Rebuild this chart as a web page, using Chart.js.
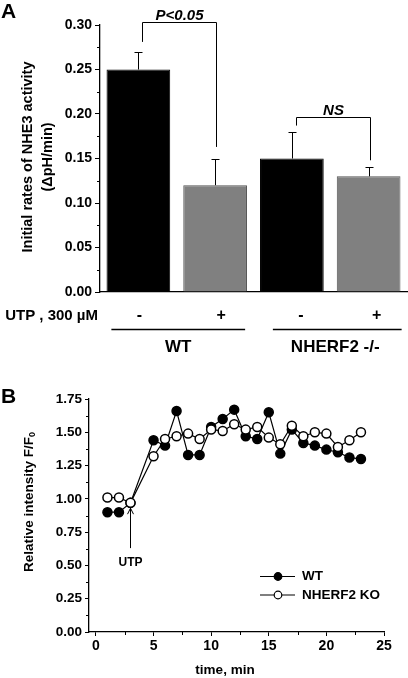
<!DOCTYPE html>
<html>
<head>
<meta charset="utf-8">
<script src="https://cdn.jsdelivr.net/npm/chart.js@4.4.0/dist/chart.umd.min.js"></script>
<style>
  body { margin: 0; background: #fff; }
  canvas { position: absolute; left: 0; }
  #chartA { top: 0; }
  #chartB { top: 370px; }
</style>
</head>
<body>
<canvas id="chartA" width="408" height="360"></canvas>
<canvas id="chartB" width="408" height="308"></canvas>
<script>
// ---- panel A: NHE3 activity bars
const utpLabels = ['-', '+', '-', '+']
const groups = ['WT', 'NHERF2 -/-']
const rates = [0.25, 0.12, 0.15, 0.13]
const rateErr = [0.02, 0.03, 0.03, 0.01]
const barColors = ['#000000', '#808080', '#000000', '#808080']
const yTicksA = [0, 0.05, 0.10, 0.15, 0.20, 0.25, 0.30]
const yMinorA = [0.025, 0.075, 0.125, 0.175, 0.225, 0.275]
const sigLabels = ['P<0.05', 'NS']
const sigPairs = [[0, 1], [2, 3]]
const sigTop = [0.303, 0.197]
const sigEnds = [[0.281, 0.163], [0.187, 0.148]]

// ---- panel B: time course
const times = [1, 2, 3, 5, 6, 7, 8, 9, 10, 11, 12, 13, 14, 15, 16, 17, 18, 19, 20, 21, 22, 23]
const wt = [0.90, 0.90, 0.97, 1.44, 1.40, 1.66, 1.33, 1.33, 1.54, 1.60, 1.67, 1.47, 1.45, 1.65, 1.34, 1.52, 1.42, 1.40, 1.37, 1.35, 1.31, 1.30]
const ko = [1.01, 1.01, 0.97, 1.32, 1.45, 1.47, 1.49, 1.45, 1.52, 1.51, 1.56, 1.52, 1.54, 1.46, 1.41, 1.55, 1.47, 1.50, 1.49, 1.39, 1.44, 1.50]
const xTicksB = [0, 5, 10, 15, 20, 25]
const xMinorB = [2.5, 7.5, 12.5, 17.5, 22.5]
const yTicksB = [0, 0.25, 0.5, 0.75, 1.0, 1.25, 1.5, 1.75]
const yMinorB = [0.125, 0.375, 0.625, 0.875, 1.125, 1.375, 1.625]
const utpTime = 3
const arrowFrom = 0.63
const arrowTo = 0.93
const utpTextY = 0.52

const FONT = '"Liberation Sans", Arial, sans-serif'
const bold = size => `bold ${size}px ${FONT}`

function line(ctx, x1, y1, x2, y2) {
    ctx.beginPath()
    ctx.moveTo(x1, y1)
    ctx.lineTo(x2, y2)
    ctx.stroke()
}

function minorY(ctx, chart, scale, vals, len) {
    const left = chart.chartArea.left
    vals.forEach(v => {
        const py = Math.round(scale.getPixelForValue(v)) + 0.5
        line(ctx, left - len, py, left, py)
    })
}

const panelA = {
    id: 'panelA',
    afterDraw(chart) {
        const { ctx, scales: { x, y } } = chart
        ctx.save()
        ctx.strokeStyle = '#000'
        ctx.fillStyle = '#000'
        ctx.lineWidth = 1

        minorY(ctx, chart, y, yMinorA, 3)

        // error bars (upper only)
        rates.forEach((v, i) => {
            const px = Math.round(x.getPixelForValue(i)) + 0.5
            const top = Math.round(y.getPixelForValue(v + rateErr[i])) + 0.5
            line(ctx, px, y.getPixelForValue(v), px, top)
            line(ctx, px - 4, top, px + 4, top)
        })

        // significance brackets
        sigPairs.forEach((p, i) => {
            const x1 = Math.round(x.getPixelForValue(p[0])) + 4.5
            const x2 = Math.round(x.getPixelForValue(p[1])) + 1.5
            const yt = Math.round(y.getPixelForValue(sigTop[i])) + 0.5
            ctx.beginPath()
            ctx.moveTo(x1, y.getPixelForValue(sigEnds[i][0]))
            ctx.lineTo(x1, yt)
            ctx.lineTo(x2, yt)
            ctx.lineTo(x2, y.getPixelForValue(sigEnds[i][1]))
            ctx.stroke()
            ctx.font = 'italic ' + bold(15)
            ctx.textAlign = 'center'
            ctx.textBaseline = 'alphabetic'
            ctx.fillText(sigLabels[i], (x1 + x2) / 2, yt - 3)
        })

        // treatment row
        const rowY = 316
        const nudge = [1, 6, 9, 8]
        ctx.font = bold(16)
        ctx.textBaseline = 'middle'
        ctx.textAlign = 'center'
        utpLabels.forEach((t, i) => ctx.fillText(t, x.getPixelForValue(i) + nudge[i], rowY))
        ctx.font = bold(15)
        ctx.textAlign = 'right'
        ctx.fillText('UTP , 300 \u00b5M', 98, rowY)

        // group underlines and names
        const spans = [[0, 1, -27, 30], [2, 3, -19, 33]]
        ctx.textAlign = 'center'
        ctx.font = bold(17)
        spans.forEach((s, i) => {
            const a = x.getPixelForValue(s[0]) + s[2]
            const b = x.getPixelForValue(s[1]) + s[3]
            ctx.lineWidth = 1.3
            line(ctx, a, 329.5, b, 329.5)
            ctx.fillText(groups[i], (a + b) / 2 - (i ? 2 : 0), 347)
        })

        // axis title
        ctx.save()
        ctx.translate(38, 157)
        ctx.rotate(-Math.PI / 2)
        ctx.font = bold(14.5)
        ctx.textAlign = 'center'
        ctx.textBaseline = 'middle'
        ctx.fillText('Initial rates of NHE3 activity', 0, -10)
        ctx.fillText('(\u0394pH/min)', 0, 10)
        ctx.restore()

        // panel letter
        ctx.font = bold(21)
        ctx.textAlign = 'left'
        ctx.textBaseline = 'alphabetic'
        ctx.fillText('A', 1, 18)
        ctx.restore()
    }
}

new Chart('chartA', {
    type: 'bar',
    data: {
        labels: utpLabels,
        datasets: [{
            data: rates,
            backgroundColor: barColors,
            borderColor: ['#000000', '#555555', '#000000', '#555555'],
            borderWidth: 1,
            barPercentage: 0.83,
            categoryPercentage: 1
        }]
    },
    options: {
        responsive: false,
        animation: false,
        layout: { padding: { top: 25, right: 1, left: 0, bottom: 0 } },
        plugins: { legend: { display: false }, tooltip: { enabled: false } },
        scales: {
            x: {
                grid: { display: false, drawTicks: false },
                border: { color: '#000', width: 1.3 },
                ticks: { display: false },
                afterFit: s => { s.height = 68 }
            },
            y: {
                min: 0,
                max: 0.3,
                afterBuildTicks: s => { s.ticks = yTicksA.map(v => ({ value: v })) },
                ticks: { color: '#000', padding: 3, font: { family: FONT, size: 14, weight: 'bold' }, callback: v => v.toFixed(2) },
                grid: { drawOnChartArea: false, tickLength: 5, tickColor: '#000' },
                border: { color: '#000', width: 1.3 },
                afterFit: s => { s.width = 100 }
            }
        }
    },
    plugins: [panelA]
})

const panelB = {
    id: 'panelB',
    afterDraw(chart) {
        const { ctx, scales: { x, y }, chartArea } = chart
        ctx.save()
        ctx.strokeStyle = '#000'
        ctx.fillStyle = '#000'
        ctx.lineWidth = 1

        minorY(ctx, chart, y, yMinorB, 3)
        xMinorB.forEach(v => {
            const px = Math.round(x.getPixelForValue(v)) + 0.5
            line(ctx, px, chartArea.bottom, px, chartArea.bottom + 3)
        })

        // UTP arrow
        const ax = Math.round(x.getPixelForValue(utpTime)) + 0.5
        const ay = y.getPixelForValue(arrowTo)
        line(ctx, ax, y.getPixelForValue(arrowFrom), ax, ay)
        ctx.beginPath()
        ctx.moveTo(ax - 3, ay + 6)
        ctx.lineTo(ax, ay)
        ctx.lineTo(ax + 3, ay + 6)
        ctx.stroke()
        ctx.font = bold(12)
        ctx.textAlign = 'center'
        ctx.textBaseline = 'middle'
        ctx.fillText('UTP', ax, y.getPixelForValue(utpTextY))

        // legend
        const items = [['WT', '#000'], ['NHERF2 KO', '#fff']]
        items.forEach((it, i) => {
            const ly = 206.5 + i * 18.5
            ctx.lineWidth = 1.2
            line(ctx, 260, ly, 295, ly)
            ctx.beginPath()
            ctx.arc(278, ly, 3.8, 0, Math.PI * 2)
            ctx.fillStyle = it[1]
            ctx.fill()
            ctx.stroke()
            ctx.fillStyle = '#000'
            ctx.font = bold(13.5)
            ctx.textAlign = 'left'
            ctx.fillText(it[0], 302, ly)
        })

        // x title
        ctx.font = bold(13.5)
        ctx.textAlign = 'center'
        ctx.fillText('time, min', 225, 300)

        // y title with subscript
        ctx.save()
        ctx.translate(29, 132)
        ctx.rotate(-Math.PI / 2)
        const main = 'Relative intensity F/F'
        ctx.font = bold(13.5)
        const w1 = ctx.measureText(main).width
        ctx.font = bold(9)
        const w2 = ctx.measureText('0').width
        const start = -(w1 + w2) / 2
        ctx.textAlign = 'left'
        ctx.font = bold(13.5)
        ctx.fillText(main, start, 0)
        ctx.font = bold(9)
        ctx.fillText('0', start + w1, 4)
        ctx.restore()

        ctx.font = bold(21)
        ctx.textAlign = 'left'
        ctx.textBaseline = 'alphabetic'
        ctx.fillText('B', 1, 33)
        ctx.restore()
    }
}

const pointDefaults = {
    borderColor: '#000',
    borderWidth: 1.2,
    pointRadius: 4.5,
    pointBorderColor: '#000',
    pointBorderWidth: 1.5,
    tension: 0
}

new Chart('chartB', {
    type: 'line',
    data: {
        datasets: [
            { ...pointDefaults, label: 'NHERF2 KO', data: times.map((t, i) => ({ x: t, y: ko[i] })), pointBackgroundColor: '#fff', order: 1 },
            { ...pointDefaults, label: 'WT', data: times.map((t, i) => ({ x: t, y: wt[i] })), pointBackgroundColor: '#000', order: 2 }
        ]
    },
    options: {
        responsive: false,
        animation: false,
        layout: { padding: { top: 29, right: 24, left: 0, bottom: 0 } },
        plugins: { legend: { display: false }, tooltip: { enabled: false } },
        scales: {
            x: {
                type: 'linear',
                min: -0.6,
                max: 25,
                afterBuildTicks: s => { s.ticks = xTicksB.map(v => ({ value: v })) },
                ticks: { color: '#000', padding: 2, font: { family: FONT, size: 14, weight: 'bold' } },
                grid: { drawOnChartArea: false, tickLength: 4, tickColor: '#000' },
                border: { color: '#000', width: 1.3 },
                afterFit: s => { s.height = 46 }
            },
            y: {
                min: 0,
                max: 1.75,
                afterBuildTicks: s => { s.ticks = yTicksB.map(v => ({ value: v })) },
                ticks: { color: '#000', padding: 3, font: { family: FONT, size: 13.5, weight: 'bold' }, callback: v => v.toFixed(2) },
                grid: { drawOnChartArea: false, tickLength: 4, tickColor: '#000' },
                border: { color: '#000', width: 1.3 },
                afterFit: s => { s.width = 89 }
            }
        }
    },
    plugins: [panelB]
})
</script>
</body>
</html>
